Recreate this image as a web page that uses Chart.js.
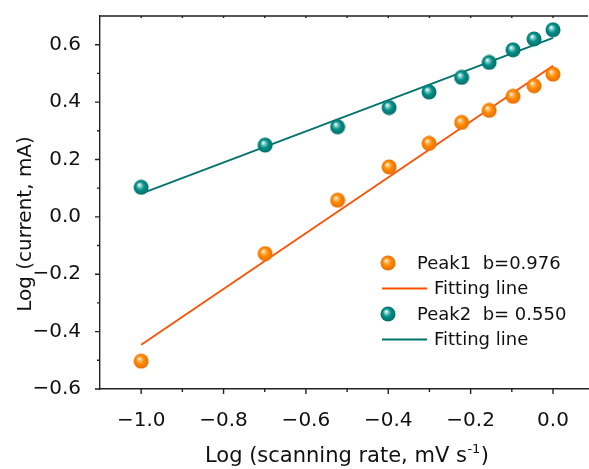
<!DOCTYPE html>
<html lang="en">
<head>
<meta charset="UTF-8" />
<style>
  body { margin: 0; background: #fff; }
  canvas { display: block; }
</style>
<script src="https://cdn.jsdelivr.net/npm/chart.js"></script>
<title>Log current vs log scanning rate</title>
</head>
<body>
<canvas id="chart" width="589" height="469"></canvas>
<script>
// log10 of scanning rate, 0.1 ... 1.0 mV/s
const logRate = [-1.0, -0.699, -0.523, -0.398, -0.301, -0.222, -0.155, -0.097, -0.046, 0.0];
const peak1 = [-0.503, -0.128, 0.058, 0.174, 0.256, 0.329, 0.371, 0.420, 0.457, 0.497];
const peak2 = [0.103, 0.250, 0.314, 0.381, 0.435, 0.486, 0.538, 0.582, 0.620, 0.652];
// fitted lines, end points
const fitX = [-1.0, 0.0];
const fit1 = [-0.446, 0.527];
const fit2 = [0.081, 0.624];

const xTicks = [-1.0, -0.8, -0.6, -0.4, -0.2, 0.0];
const xTickLabels = ['\u22121.0', '\u22120.8', '\u22120.6', '\u22120.4', '\u22120.2', '0.0'];
const xMinor = [-0.9, -0.7, -0.5, -0.3, -0.1];
const yTicks = [-0.6, -0.4, -0.2, 0.0, 0.2, 0.4, 0.6];
const yTickLabels = ['\u22120.6', '\u22120.4', '\u22120.2', '0.0', '0.2', '0.4', '0.6'];
const yMinor = [-0.5, -0.3, -0.1, 0.1, 0.3, 0.5];
const legendNames = ['Peak1  b=0.976', 'Fitting line', 'Peak2  b= 0.550', 'Fitting line'];
const yTitle = 'Log (current, mA)';
const xTitle = ['Log (scanning rate, mV s', '-1', ')'];

const FONT = '"DejaVu Sans", sans-serif';

function sphere(light, base, dark) {
  const c = document.createElement('canvas');
  c.width = 16; c.height = 16;
  const g = c.getContext('2d');
  const grad = g.createRadialGradient(6, 5.5, 0.3, 8, 8, 8);
  grad.addColorStop(0, '#ffffff');
  grad.addColorStop(0.18, light);
  grad.addColorStop(0.5, base);
  grad.addColorStop(1, dark);
  g.fillStyle = grad;
  g.beginPath();
  g.arc(8, 8, 7.5, 0, Math.PI * 2);
  g.fill();
  return c;
}
const orangeBall = sphere('#ffc070', '#ff8a00', '#e66a00');
const tealBall = sphere('#8fd0cc', '#009089', '#006a65');

function pts(xs, ys) {
  return xs.map((x, i) => ({ x: x, y: ys[i] }));
}

// frame, tick marks, axis titles and legend
const extras = {
  id: 'extras',
  afterDraw(chart) {
    const ctx = chart.ctx;
    const a = chart.chartArea;
    const xs = chart.scales.x, ys = chart.scales.y;
    ctx.save();
    ctx.strokeStyle = '#222';
    ctx.lineWidth = 1.4;
    ctx.beginPath();
    ctx.moveTo(a.left, a.top); ctx.lineTo(a.right, a.top);
    xTicks.forEach(v => { const p = xs.getPixelForValue(v); ctx.moveTo(p, a.bottom); ctx.lineTo(p, a.bottom + 5); ctx.moveTo(p, a.top); ctx.lineTo(p, a.top + 2); });
    xMinor.forEach(v => { const p = xs.getPixelForValue(v); ctx.moveTo(p, a.bottom); ctx.lineTo(p, a.bottom + 3); ctx.moveTo(p, a.top); ctx.lineTo(p, a.top + 2); });
    yTicks.forEach(v => { const p = ys.getPixelForValue(v); ctx.moveTo(a.left, p); ctx.lineTo(a.left - 5, p); });
    yMinor.forEach(v => { const p = ys.getPixelForValue(v); ctx.moveTo(a.left, p); ctx.lineTo(a.left - 3, p); });
    ctx.stroke();

    ctx.fillStyle = '#111';
    // y title
    ctx.save();
    ctx.translate(26, 224);
    ctx.rotate(-Math.PI / 2);
    ctx.font = '20px ' + FONT;
    ctx.textAlign = 'center';
    ctx.textBaseline = 'middle';
    ctx.fillText(yTitle, 0, 0);
    ctx.restore();

    // x title with superscript
    ctx.textBaseline = 'alphabetic';
    ctx.textAlign = 'left';
    ctx.font = '21px ' + FONT;
    const w0 = ctx.measureText(xTitle[0]).width;
    const w2 = ctx.measureText(xTitle[2]).width;
    ctx.font = '13px ' + FONT;
    const w1 = ctx.measureText(xTitle[1]).width;
    let tx = 347 - (w0 + w1 + w2 + 1) / 2;
    const base = 462;
    ctx.font = '21px ' + FONT;
    ctx.fillText(xTitle[0], tx, base);
    tx += w0 + 0.5;
    ctx.font = '13px ' + FONT;
    ctx.fillText(xTitle[1], tx, base - 9);
    tx += w1 + 0.5;
    ctx.font = '21px ' + FONT;
    ctx.fillText(xTitle[2], tx, base);

    // legend
    const ds = chart.data.datasets;
    const rows = [0, 2, 1, 3];
    ctx.font = '18px ' + FONT;
    ctx.textBaseline = 'middle';
    rows.forEach((di, r) => {
      const y = 263 + r * 25.5;
      const d = ds[di];
      if (d.type === 'scatter') {
        ctx.drawImage(d.pointStyle, 380, y - 8);
        ctx.fillText(legendNames[r], 417, y + 1);
      } else {
        ctx.strokeStyle = d.borderColor;
        ctx.lineWidth = d.borderWidth;
        ctx.beginPath(); ctx.moveTo(382, y); ctx.lineTo(427, y); ctx.stroke();
        ctx.fillText(legendNames[r], 434, y + 1);
      }
    });
    ctx.restore();
  }
};

new Chart(document.getElementById('chart'), {
  data: {
    datasets: [
      { type: 'scatter', data: pts(logRate, peak1), pointStyle: orangeBall, pointRadius: 8, borderColor: '#ff8a00', backgroundColor: '#ff8a00' },
      { type: 'scatter', data: pts(logRate, peak2), pointStyle: tealBall, pointRadius: 8, borderColor: '#009089', backgroundColor: '#009089' },
      { type: 'line', data: pts(fitX, fit1), borderColor: '#ff4f00', borderWidth: 1.8, pointRadius: 0 },
      { type: 'line', data: pts(fitX, fit2), borderColor: '#00736e', borderWidth: 1.8, pointRadius: 0 }
    ]
  },
  options: {
    responsive: false,
    devicePixelRatio: 1,
    animation: false,
    layout: { autoPadding: false, padding: { top: 16, right: 1, left: 0, bottom: 0 } },
    plugins: { legend: { display: false }, tooltip: { enabled: false } },
    scales: {
      x: {
        type: 'linear',
        min: -1.1,
        max: 0.085,
        grid: { display: false },
        border: { display: true, color: '#222', width: 1.4 },
        afterBuildTicks: s => { s.ticks = xTicks.map(v => ({ value: v })); },
        afterFit: s => { s.height = 80; s.paddingLeft = 0; s.paddingRight = 0; },
        ticks: {
          padding: 12,
          color: '#111',
          font: { family: FONT, size: 20 },
          callback: (v, i) => xTickLabels[i]
        }
      },
      y: {
        type: 'linear',
        min: -0.6,
        max: 0.7,
        grid: { display: false },
        border: { display: true, color: '#222', width: 1.4 },
        afterBuildTicks: s => { s.ticks = yTicks.map(v => ({ value: v })); },
        afterFit: s => { s.width = 100; s.paddingTop = 0; s.paddingBottom = 0; },
        ticks: {
          padding: 11,
          color: '#111',
          font: { family: FONT, size: 20 },
          callback: (v, i) => yTickLabels[i]
        }
      }
    }
  },
  plugins: [extras]
});
</script>
</body>
</html>
